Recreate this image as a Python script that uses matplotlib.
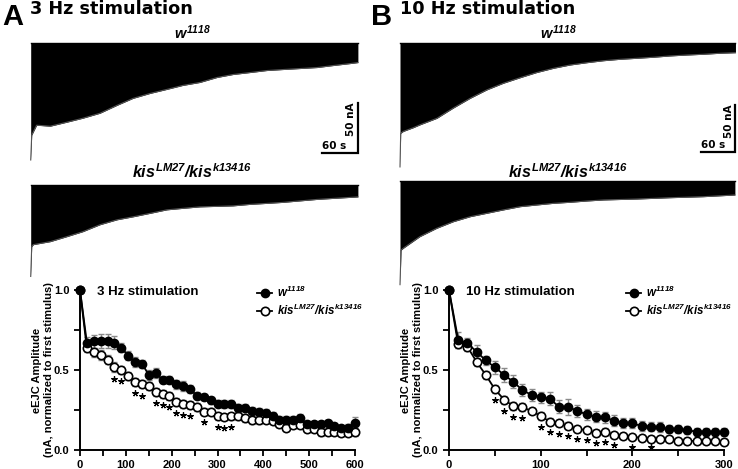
import matplotlib
matplotlib.use("Agg")
import matplotlib.pyplot as plt
from matplotlib.lines import Line2D
import numpy as np

plt.rcParams['font.family'] = ['Liberation Sans', 'DejaVu Sans']
plt.rcParams['font.weight'] = 'bold'
plt.rcParams['mathtext.fontset'] = 'custom'
plt.rcParams['mathtext.rm'] = 'Liberation Sans:bold:italic'
plt.rcParams['mathtext.it'] = 'Liberation Sans:bold:italic'
plt.rcParams['mathtext.bf'] = 'Liberation Sans:bold:italic'

# ---------------- data: summary plots ----------------
t3 = list(range(0, 601, 15))
w3 = [1.0, 0.67, 0.68, 0.68, 0.68, 0.67, 0.64, 0.59, 0.55, 0.54, 0.47, 0.48, 0.44, 0.44,
      0.41, 0.40, 0.38, 0.34, 0.33, 0.31, 0.29, 0.29, 0.29, 0.26, 0.265, 0.245, 0.24, 0.23,
      0.21, 0.19, 0.19, 0.19, 0.20, 0.16, 0.16, 0.16, 0.17, 0.15, 0.135, 0.14, 0.17]
w3_err = [0.0, 0.035, 0.04, 0.045, 0.045, 0.04, 0.03, 0.03, 0.03, 0.025, 0.03, 0.03, 0.02, 0.02,
          0.03, 0.03, 0.025, 0.02, 0.02, 0.02, 0.02, 0.025, 0.025, 0.025, 0.025, 0.025, 0.025, 0.025,
          0.025, 0.025, 0.025, 0.025, 0.025, 0.02, 0.02, 0.02, 0.02, 0.02, 0.02, 0.02, 0.035]
k3 = [1.0, 0.635, 0.61, 0.595, 0.565, 0.52, 0.50, 0.465, 0.425, 0.41, 0.40, 0.365, 0.35, 0.34,
      0.30, 0.29, 0.28, 0.27, 0.24, 0.24, 0.21, 0.205, 0.21, 0.21, 0.20, 0.19, 0.185, 0.19,
      0.18, 0.165, 0.14, 0.155, 0.155, 0.13, 0.13, 0.11, 0.115, 0.115, 0.105, 0.105, 0.11]
k3_err = [0.0, 0.025, 0.03, 0.03, 0.03, 0.03, 0.025, 0.025, 0.025, 0.025, 0.025, 0.025, 0.025, 0.025,
          0.025, 0.025, 0.025, 0.025, 0.02, 0.02, 0.02, 0.02, 0.02, 0.025, 0.025, 0.025, 0.02, 0.02,
          0.02, 0.02, 0.02, 0.02, 0.02, 0.02, 0.02, 0.02, 0.02, 0.02, 0.02, 0.02, 0.02]
sig3 = [75, 90, 120, 135, 165, 180, 195, 210, 225, 240, 270, 300, 315, 330]

t10 = list(range(0, 301, 10))
w10 = [1.0, 0.69, 0.667, 0.615, 0.56, 0.517, 0.47, 0.427, 0.375, 0.344, 0.33, 0.32, 0.27, 0.27,
       0.244, 0.223, 0.208, 0.204, 0.183, 0.167, 0.167, 0.15, 0.146, 0.142, 0.13, 0.13, 0.123,
       0.115, 0.115, 0.115, 0.11]
w10_err = [0.0, 0.05, 0.035, 0.04, 0.03, 0.04, 0.045, 0.04, 0.04, 0.035, 0.035, 0.04, 0.04, 0.05,
           0.04, 0.035, 0.035, 0.035, 0.035, 0.03, 0.03, 0.03, 0.03, 0.03, 0.025, 0.025, 0.025,
           0.025, 0.025, 0.025, 0.025]
k10 = [1.0, 0.66, 0.646, 0.552, 0.47, 0.38, 0.315, 0.275, 0.267, 0.244, 0.213, 0.177, 0.167, 0.152,
       0.131, 0.125, 0.106, 0.115, 0.094, 0.09, 0.081, 0.077, 0.067, 0.067, 0.069, 0.058, 0.058,
       0.056, 0.056, 0.058, 0.052]
k10_err = [0.0, 0.025, 0.025, 0.025, 0.025, 0.025, 0.025, 0.025, 0.025, 0.02, 0.025, 0.02, 0.02, 0.02,
           0.02, 0.02, 0.02, 0.02, 0.015, 0.015, 0.015, 0.015, 0.015, 0.015, 0.015, 0.015, 0.015,
           0.015, 0.015, 0.015, 0.015]
sig10 = [50, 60, 70, 80, 100, 110, 120, 130, 140, 150, 160, 170, 180, 200, 220]

# ---------------- data: example traces (negative envelope, nA vs s) ----------------
A_w_t = [0, 1.7, 10, 33, 61, 88, 117, 146, 173, 202, 230, 257, 286, 315, 342, 371, 399, 426, 455, 484, 511, 540, 553]
A_w_amp = [-118, -93, -83, -84, -80, -76, -71, -63, -56, -51, -47, -43, -40, -35, -32, -30, -28, -27, -26, -25, -23, -21, -20]
A_k_t = [0, 1.7, 4.4, 33, 61, 88, 117, 146, 173, 202, 230, 257, 286, 315, 342, 371, 399, 426, 455, 484, 511, 553]
A_k_amp = [-92, -62, -60, -57, -52, -47, -40, -35, -32, -28.5, -25, -23.5, -22, -21.5, -21, -19.5, -18.5, -17.5, -16, -14.5, -13.5, -12]
B_w_t = [0, 1.2, 5.8, 23.5, 35, 65, 94, 124, 153, 182, 212, 241, 271, 300, 330, 359, 388, 418, 447, 476, 506, 535, 565, 592]
B_w_amp = [-133, -97, -95, -91, -88, -81, -70, -59.5, -50.6, -43.5, -37.5, -32, -27.4, -23.9, -21.4, -19.3, -17.8, -16.7, -15.6, -14.2, -13.2, -12.4, -11.3, -10.7]
B_k_t = [0, 1.8, 5.8, 35, 65, 94, 124, 153, 182, 212, 241, 271, 300, 330, 359, 418, 476, 535, 591]
B_k_amp = [-111, -74, -72, -59.6, -50.6, -43.6, -38.2, -34.6, -31, -27.5, -25.7, -23.9, -22.8, -21.4, -20.3, -19.3, -17.9, -16.8, -15]

W = 738
H = 469
fig = plt.figure(figsize=(W / 100, H / 100), dpi=100)


def px_axes(x0, y0, x1, y1):
    return fig.add_axes([x0 / W, 1 - y1 / H, (x1 - x0) / W, (y1 - y0) / H])


def trace_axes(x0, y0, x1, y1, xstart, ybase, pps, ppn, t, amp, bar=None):
    ax = px_axes(x0, y0, x1, y1)
    ax.set_xlim((x0 - xstart) / pps, (x1 - xstart) / pps)
    ax.set_ylim(-(y1 - ybase) / ppn, -(y0 - ybase) / ppn)
    ax.axis('off')
    ax.fill_between(t, 0, amp, color='black', lw=0)
    ax.plot(t, amp, color='#555555', lw=0.8)
    ax.plot([t[0], t[-1]], [0, 0], color='black', lw=1.0)
    if bar is not None:
        bx, by = bar  # corner in data coords
        ax.plot([bx - 60, bx, bx], [by, by, by + 50], color='black', lw=1.6,
                solid_joinstyle='miter', clip_on=False)
        ax.text(bx - 60, by + 1.5, '60 s', ha='left', va='bottom', fontsize=7.5,
                family='DejaVu Sans', fontweight='bold')
        ax.text(bx - 2.5, by + 50, '50 nA', ha='right', va='top', rotation=90,
                fontsize=7.5, family='DejaVu Sans', fontweight='bold')
    return ax


# Panel A traces
trace_axes(25, 38, 362, 165, 30.7, 42.7, 35.5 / 60, 49.7 / 50, A_w_t, A_w_amp,
           bar=((357.5 - 30.7) / (35.5 / 60), -(152.7 - 42.7) / (49.7 / 50)))
trace_axes(25, 180, 362, 282, 30.7, 185, 35.5 / 60, 49.7 / 50, A_k_t, A_k_amp)
# Panel B traces
trace_axes(395, 38, 738, 170, 400, 42.7, 34 / 60, 46.7 / 50, B_w_t, B_w_amp,
           bar=((735 - 400) / (34 / 60), -(151.7 - 42.7) / (46.7 / 50)))
trace_axes(395, 178, 738, 290, 400, 181, 34 / 60, 46.7 / 50, B_k_t, B_k_amp)

# Headings
fig.text(2 / W, 1 - 17 / H, 'A', fontsize=21, fontweight='bold', va='center', ha='left')
fig.text(371 / W, 1 - 17 / H, 'B', fontsize=21, fontweight='bold', va='center', ha='left')
fig.text(30 / W, 1 - 9 / H, '3 Hz stimulation', fontsize=12.7, fontweight='bold',
         family='DejaVu Sans', va='center', ha='left')
fig.text(400 / W, 1 - 9 / H, '10 Hz stimulation', fontsize=12.7, fontweight='bold',
         family='DejaVu Sans', va='center', ha='left')
fig.text(192 / W, 1 - 33 / H, r'$w^{1118}$', fontsize=10.5, ha='center', va='center')
fig.text(558 / W, 1 - 33 / H, r'$w^{1118}$', fontsize=10.5, ha='center', va='center')
fig.text(192 / W, 1 - 172 / H, r'$kis^{LM27}/kis^{k13416}$', fontsize=11.6, ha='center', va='center')
fig.text(568 / W, 1 - 172 / H, r'$kis^{LM27}/kis^{k13416}$', fontsize=11.6, ha='center', va='center')


def summary(ax, t, w, we, k, ke, sig, xmax, title, legx):
    err_kw = dict(ecolor='#8a8a8a', elinewidth=1.0, capsize=2.2, capthick=1.0)
    ax.errorbar(t, k, yerr=ke, fmt='none', zorder=2, clip_on=False, **err_kw)
    ax.errorbar(t, w, yerr=we, fmt='none', zorder=2, clip_on=False, **err_kw)
    ax.plot(t, k, color='black', lw=1.3, marker='o', ms=6, mfc='white', mec='black',
            mew=1.2, zorder=3, clip_on=False)
    ax.plot(t, w, color='black', lw=1.3, marker='o', ms=6, mfc='black', mec='black',
            zorder=4, clip_on=False)
    kd = dict(zip(t, k))
    ked = dict(zip(t, ke))
    sy = [max(kd[s] - ked[s] - 0.045, 0.02) for s in sig]
    ax.plot(sig, sy, ls='none', marker=(5, 2, 0), ms=4.5, mew=0.9, color='black', zorder=5)
    ax.set_xlim(0, xmax)
    ax.set_ylim(0, 1.0)
    for s in ['top', 'right']:
        ax.spines[s].set_visible(False)
    for s in ['left', 'bottom']:
        ax.spines[s].set_linewidth(1.4)
    ax.set_yticks([0, 0.5, 1.0])
    ax.set_yticklabels(['0.0', '0.5', '1.0'])
    ax.set_yticks([0.25, 0.75], minor=True)
    ax.set_xticks(list(range(0, xmax + 1, 100)))
    ax.set_xticks(list(range(50, xmax, 100)), minor=True)
    ax.tick_params(which='both', direction='out', width=1.3, labelsize=8)
    ax.tick_params(which='major', length=4)
    ax.tick_params(which='minor', length=4)
    for lab in ax.get_xticklabels() + ax.get_yticklabels():
        lab.set_fontweight('bold')
    ax.set_ylabel('eEJC Amplitude\n(nA, normalized to first stimulus)', fontsize=8,
                  fontweight='bold', labelpad=0)
    ax.text(0.062, 0.985, title, transform=ax.transAxes, fontsize=9.5, fontweight='bold',
            va='center', ha='left')
    handles = [Line2D([], [], color='black', lw=1.3, marker='o', ms=6, mfc='black'),
               Line2D([], [], color='black', lw=1.3, marker='o', ms=6, mfc='white', mew=1.2)]
    ax.legend(handles, [r'$w^{1118}$', r'$kis^{LM27}/kis^{k13416}$'], loc='upper left',
              bbox_to_anchor=(legx, 1.035), frameon=False, fontsize=8.3, handlelength=1.3,
              handletextpad=0.4, labelspacing=0.3, borderaxespad=0, borderpad=0)


axL = px_axes(80, 290, 355, 450)
summary(axL, t3, w3, w3_err, k3, k3_err, sig3, 600, '3 Hz stimulation', 0.645)
axR = px_axes(449, 290, 724, 450)
summary(axR, t10, w10, w10_err, k10, k10_err, sig10, 300, '10 Hz stimulation', 0.645)

fig.savefig('out.png', dpi=100)
